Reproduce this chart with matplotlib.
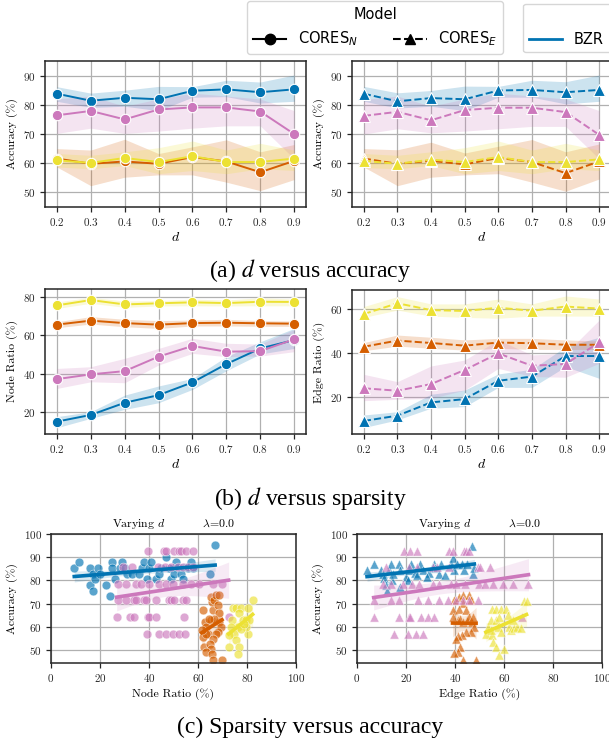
import numpy as np
import matplotlib
matplotlib.use("Agg")
import matplotlib.pyplot as plt
from matplotlib.font_manager import FontProperties
from matplotlib.lines import Line2D

plt.rcParams.update({
    'font.family': ['cmr10', 'DejaVu Serif'],
    'mathtext.fontset': 'cm',
    'axes.formatter.use_mathtext': True,
    'axes.unicode_minus': False,
    'xtick.labelsize': 8,
    'ytick.labelsize': 8,
    'axes.labelsize': 8.5,
})

# ---------------- data ----------------
datasets = ["BZR", "COX2", "DHFR", "NCI1"]
colors = ["#0173b2", "#d55e00", "#cc78bc", "#ece133"]
d_values = [0.2, 0.3, 0.4, 0.5, 0.6, 0.7, 0.8, 0.9]

acc_node_mean = [[83.8, 81.4, 82.4, 81.9, 84.8, 85.3, 84.3, 85.3],
                 [61.6, 59.8, 60.6, 59.8, 62.1, 60.6, 56.9, 60.8],
                 [76.4, 77.9, 75.0, 78.4, 79.1, 79.1, 77.7, 70.0],
                 [61.0, 60.1, 61.8, 60.4, 62.4, 60.4, 60.4, 61.6]]
acc_node_lo = [[81.2, 79.1, 79.5, 78.0, 82.6, 82.8, 80.6, 81.2],
               [58.7, 52.3, 55.2, 56.0, 56.0, 53.5, 50.6, 54.4],
               [70.2, 72.0, 70.2, 71.0, 72.0, 72.8, 72.8, 61.5],
               [58.7, 58.1, 59.2, 56.4, 57.5, 56.4, 58.1, 57.5]]
acc_node_hi = [[86.2, 84.0, 85.0, 86.3, 86.2, 88.4, 87.8, 90.2],
               [65.0, 64.5, 68.2, 63.3, 65.6, 68.0, 63.9, 66.4],
               [82.0, 83.0, 79.5, 82.0, 84.0, 83.0, 82.0, 78.0],
               [63.3, 62.7, 63.9, 65.3, 67.6, 64.5, 66.8, 64.5]]

acc_edge_mean = [[83.8, 81.2, 82.3, 81.9, 84.9, 85.1, 84.3, 85.1],
                 [61.6, 59.8, 60.8, 59.6, 61.8, 60.4, 56.6, 60.6],
                 [76.2, 77.6, 74.7, 78.2, 79.0, 79.0, 77.5, 69.7],
                 [60.8, 59.8, 61.2, 60.4, 62.1, 60.4, 60.4, 61.3]]
acc_edge_lo = [[81.2, 78.9, 79.5, 78.0, 82.6, 82.6, 80.3, 81.2],
               [58.7, 52.3, 55.2, 56.0, 56.4, 53.5, 50.4, 54.6],
               [70.0, 71.8, 70.4, 71.0, 71.8, 72.6, 72.6, 61.5],
               [58.5, 58.1, 59.2, 56.4, 57.5, 56.4, 58.1, 57.5]]
acc_edge_hi = [[86.3, 84.1, 84.9, 86.4, 86.3, 88.4, 87.9, 90.2],
               [65.0, 64.6, 67.2, 63.5, 65.8, 68.1, 63.9, 66.6],
               [81.8, 83.0, 79.5, 82.0, 84.0, 83.0, 82.0, 78.0],
               [63.3, 62.7, 63.9, 65.3, 67.6, 64.5, 66.8, 64.5]]

node_ratio_mean = [[14.8, 18.3, 24.7, 28.7, 35.4, 45.0, 53.2, 57.6],
                   [65.7, 67.8, 66.5, 65.7, 66.5, 66.7, 66.4, 66.2],
                   [37.1, 39.6, 41.3, 48.9, 54.5, 51.5, 51.8, 58.0],
                   [75.8, 78.6, 76.3, 76.9, 77.4, 77.0, 77.7, 77.6]]
node_ratio_lo = [[11.6, 16.5, 21.2, 24.7, 31.7, 41.5, 50.3, 53.2],
                 [64.1, 66.0, 64.6, 63.7, 65.0, 65.0, 64.8, 64.8],
                 [32.2, 35.7, 35.2, 44.5, 50.6, 48.9, 49.2, 51.5],
                 [74.2, 76.9, 74.8, 75.5, 75.6, 75.5, 75.6, 75.6]]
node_ratio_hi = [[17.4, 20.0, 28.7, 33.5, 37.5, 48.9, 56.7, 63.7],
                 [67.2, 69.9, 68.5, 67.8, 68.1, 68.5, 67.8, 67.6],
                 [42.7, 43.6, 48.0, 53.2, 58.5, 55.9, 55.5, 63.2],
                 [77.6, 80.0, 78.1, 78.3, 79.1, 78.6, 79.8, 79.1]]

edge_ratio_mean = [[9.3, 11.7, 17.7, 19.2, 27.5, 29.4, 38.7, 38.7],
                   [42.9, 45.7, 44.6, 43.4, 44.8, 44.5, 43.8, 43.8],
                   [24.1, 23.0, 26.0, 32.4, 39.9, 34.3, 35.1, 44.9],
                   [57.7, 62.6, 59.5, 59.1, 60.6, 59.2, 61.1, 60.2]]
edge_ratio_lo = [[6.3, 9.8, 15.1, 15.8, 24.5, 24.5, 33.9, 28.6],
                 [41.1, 43.2, 42.2, 41.4, 42.2, 41.7, 41.7, 41.7],
                 [18.5, 19.1, 19.5, 23.3, 33.1, 29.4, 29.1, 35.4],
                 [56.2, 59.5, 56.8, 56.2, 55.8, 56.8, 56.8, 56.8]]
edge_ratio_hi = [[12.0, 13.5, 21.4, 23.3, 30.6, 32.7, 42.9, 47.2],
                 [44.8, 48.2, 47.2, 46.0, 46.7, 46.7, 46.0, 45.5],
                 [30.4, 27.1, 34.2, 36.9, 46.0, 39.2, 39.9, 55.0],
                 [61.1, 65.6, 62.3, 62.3, 64.5, 62.3, 65.9, 64.5]]

# scatter: node ratio vs accuracy (circles)
node_x_bzr = [9.5, 11.5, 16, 16, 17, 17, 18, 19, 20, 22.5, 24, 25, 25, 26, 28, 29, 30, 31, 33, 36,
              37, 38, 39, 40, 41, 43, 44, 45, 47, 48, 49, 50, 51, 53, 54, 56, 57, 58, 65, 67]
node_y_bzr = [85.4, 87.8, 85.4, 78.0, 75.6, 82.9, 80.5, 85.4, 82.9, 78.0, 73.2, 87.8, 85.4, 80.5, 85.4, 87.8, 85.4, 82.9, 82.9, 82.9,
              85.4, 87.8, 80.5, 85.4, 87.8, 80.5, 82.9, 85.4, 90.2, 85.4, 80.5, 82.9, 87.8, 82.9, 80.5, 85.4, 87.8, 85.4, 82.9, 95.1]
node_x_cox = [62.2, 62.9, 63.3, 63.9, 61.9, 62.6, 65.3, 66.0, 65.7, 65.3, 66.7, 67.3, 68.7, 68.0, 68.7, 68.7, 69.4, 68.0,
              67.3, 66.0, 64.9, 65.3, 63.3, 65.7, 66.0, 69.8, 63.3, 61.5, 66.7, 64.6]
node_y_cox = [67.2, 62.2, 60.0, 57.1, 55.7, 51.4, 62.9, 67.2, 70.8, 72.9, 71.5, 73.7, 73.7, 69.4, 65.8, 62.2, 60.0, 57.8,
              57.1, 55.0, 52.8, 50.6, 49.2, 48.5, 45.8, 45.8, 57.1, 58.6, 63.6, 63.6]
node_x_dhfr = [39.5, 46.3, 46.9, 50.3, 52.1, 53.1, 55.1, 57.8,
               29.5, 33.0, 43.5, 46.5, 49.0, 52.0, 54.0, 56.0, 58.0,
               27.2, 30.6, 34.7, 36.7, 40.1, 44.2, 46.9, 49.7, 53.7, 57.1, 60.5, 66.0, 69.8,
               27.2, 30.6, 34.0, 34.7, 38.1, 38.8, 42.9, 48.3, 49.0, 50.3, 53.7, 55.1,
               26.8, 32.2, 34.0, 39.5, 40.1, 42.9, 54.4, 72.5,
               39.0, 44.2, 46.9, 49.7, 52.1, 54.8]
node_y_dhfr = [92.9, 92.9, 92.9, 92.9, 92.9, 92.9, 92.9, 92.9,
               85.7, 85.7, 85.7, 85.7, 85.7, 85.7, 85.7, 85.7, 85.7,
               78.6, 78.6, 78.6, 78.6, 78.6, 78.6, 78.6, 78.6, 78.6, 78.6, 78.6, 78.6, 78.6,
               71.4, 71.4, 71.4, 71.4, 71.4, 71.4, 71.4, 71.4, 71.4, 71.4, 71.4, 71.4,
               64.3, 64.3, 64.3, 64.3, 64.3, 64.3, 64.3, 64.3,
               57.1, 57.1, 57.1, 57.1, 57.1, 57.1]
node_x_nci = [73.9, 74.1, 75.5, 77.6, 80.3, 82.3, 76.9, 78.2, 79.6, 81.0, 76.2, 74.8, 75.5, 76.9, 72.5, 76.2,
              80.3, 79.6, 73.5, 77.6, 78.9, 72.8]
node_y_nci = [62.9, 68.3, 68.3, 68.3, 68.3, 71.5, 65.8, 62.9, 62.9, 62.9, 60.0, 57.1, 54.2, 51.4, 51.4, 48.5,
              57.1, 60.0, 60.0, 59.3, 61.4, 56.4]

# scatter: edge ratio vs accuracy (triangles)
edge_x_bzr = [4.1, 6.8, 9.8, 10.5, 11.2, 11.9, 12.1, 13.2, 13.9, 14.3, 17.0, 17.6, 17.6, 20.0, 20.7, 21.4, 22.1, 23.8, 24.4, 25.9,
              26.8, 29.3, 31.3, 32.0, 33.6, 34.3, 38.4, 39.3, 39.7, 40.7, 42.8, 43.8, 45.1, 46.9, 47.5, 47.9, 36.0, 28.4, 14.6]
edge_y_bzr = [84.7, 87.3, 84.7, 83.0, 80.9, 78.0, 75.6, 84.7, 87.3, 80.1, 87.3, 84.7, 77.3, 81.6, 80.4, 84.7, 87.3, 83.3, 82.3, 87.3,
              84.7, 83.3, 87.3, 85.2, 82.7, 87.3, 87.3, 89.5, 84.7, 87.3, 87.3, 84.7, 87.3, 94.8, 83.0, 85.2, 82.3, 81.6, 83.0]
edge_x_cox = [39.0, 39.3, 39.7, 41.5, 43.1, 43.4, 41.8, 44.5, 45.8, 46.5, 41.1, 42.0, 43.4, 45.1, 46.9, 47.9, 46.5, 44.5,
              42.8, 41.1, 40.4, 42.0, 41.1, 39.7, 43.1, 48.6, 45.6, 47.5]
edge_y_cox = [67.2, 64.3, 71.5, 72.9, 73.7, 70.1, 67.9, 67.2, 73.7, 71.5, 62.9, 63.6, 62.2, 62.9, 62.2, 60.0, 57.8, 57.8,
              56.4, 56.0, 55.0, 51.4, 49.2, 48.8, 45.6, 45.6, 64.3, 64.3]
edge_x_dhfr = [19.0, 21.6, 24.4, 37.7, 39.0, 43.8, 44.5, 45.8,
               11.9, 21.4, 24.4, 30.9, 32.5, 37.4, 49.3, 50.3, 54.3,
               10.5, 13.9, 18.7, 22.5, 25.4, 31.2, 33.6, 38.4, 40.4, 44.2, 49.6, 52.4, 55.4, 59.4, 63.5, 70.0,
               6.8, 13.9, 17.0, 24.8, 28.8, 33.6, 37.0, 40.4, 43.4, 45.8, 49.2,
               7.1, 17.3, 21.4, 21.6, 26.1, 28.8, 31.6, 67.3,
               15.3, 20.7, 24.1, 27.1]
edge_y_dhfr = [92.9, 92.9, 92.9, 92.9, 92.9, 92.9, 92.9, 92.9,
               85.7, 85.7, 85.7, 85.7, 85.7, 85.7, 85.7, 85.7, 85.7,
               78.6, 78.6, 78.6, 78.6, 78.6, 78.6, 78.6, 78.6, 78.6, 78.6, 78.6, 78.6, 78.6, 78.6, 78.6, 78.6,
               71.4, 71.4, 71.4, 71.4, 71.4, 71.4, 71.4, 71.4, 71.4, 71.4, 71.4,
               64.3, 64.3, 64.3, 64.3, 64.3, 64.3, 64.3, 64.3,
               57.1, 57.1, 57.1, 57.1]
edge_x_nci = [52.6, 53.3, 54.7, 55.3, 56.7, 58.7, 60.8, 61.5, 56.7, 57.4, 58.7, 55.3, 55.6, 56.7, 57.8, 60.1,
              62.1, 62.8, 64.2, 65.5, 66.9, 68.2, 69.2, 63.5, 58.1, 54.7]
edge_y_nci = [57.1, 60.0, 62.9, 67.9, 67.9, 67.9, 67.9, 65.0, 62.9, 60.0, 57.8, 56.4, 53.5, 51.4, 47.8, 50.6,
              60.0, 58.6, 59.7, 60.0, 59.7, 71.2, 71.2, 62.9, 64.3, 58.6]

# ---------------- figure ----------------
W, H = 609, 740
fig = plt.figure(figsize=(W / 100, H / 100), dpi=100)


def px_axes(x0, y0, x1, y1):
    return fig.add_axes([x0 / W, 1 - y1 / H, (x1 - x0) / W, (y1 - y0) / H])


def style(ax):
    ax.grid(True, color='#b0b0b0', lw=0.9)
    ax.set_axisbelow(True)
    for s in ax.spines.values():
        s.set_color('#262626')
        s.set_linewidth(1.1)
    ax.tick_params(direction='out', length=3.5, width=0.9, color='#262626', labelcolor='#262626', pad=3)


def line_panel(ax, means, los, his, marker, ls, ylim, ylabel, yticks):
    for m, lo, hi, c in zip(means, los, his, colors):
        ax.fill_between(d_values, lo, hi, color=c, alpha=0.2, lw=0)
        ax.plot(d_values, m, color=c, ls=ls, lw=1.4, marker=marker, ms=7.5 if marker == 'o' else 8,
                mec='white', mew=0.8)
    ax.set_xlim(0.165, 0.935)
    ax.set_xticks(d_values)
    ax.set_ylim(*ylim)
    ax.set_yticks(yticks)
    ax.set_xlabel('$d$', fontsize=10, labelpad=2)
    ax.set_ylabel(ylabel)
    style(ax)


def reg_panel(ax, xs, ys, marker, xlabel):
    for x, y, c in zip(xs, ys, colors):
        ax.scatter(x, y, s=40 if marker == 'o' else 44, marker=marker, color=c, alpha=0.65,
                   edgecolors='white', linewidths=0.5, zorder=2)
    for x, y, c in zip(xs, ys, colors):
        x = np.asarray(x, float)
        y = np.asarray(y, float)
        b, a = np.polyfit(x, y, 1)
        g = np.linspace(x.min(), x.max(), 100)
        yh = a + b * g
        n = len(x)
        s = np.sqrt(np.sum((y - (a + b * x)) ** 2) / (n - 2))
        se = s * np.sqrt(1 / n + (g - x.mean()) ** 2 / np.sum((x - x.mean()) ** 2))
        ax.fill_between(g, yh - 1.96 * se, yh + 1.96 * se, color=c, alpha=0.15, lw=0, zorder=3)
        ax.plot(g, yh, color=c, lw=2.6, zorder=4)
    ax.set_xlim(0, 100)
    ax.set_ylim(44.5, 100)
    ax.set_xticks([0, 20, 40, 60, 80, 100])
    ax.set_yticks([50, 60, 70, 80, 90, 100])
    ax.set_xlabel(xlabel, labelpad=3)
    ax.set_ylabel('Accuracy (%)')
    ax.set_title('Varying $d$          $\\lambda$=0.0', fontsize=8.5, pad=5)
    style(ax)


ax1 = px_axes(45, 61, 306, 207)
line_panel(ax1, acc_node_mean, acc_node_lo, acc_node_hi, 'o', '-', (45, 95), 'Accuracy (%)', [50, 60, 70, 80, 90])
ax2 = px_axes(352, 61, 611, 207)
line_panel(ax2, acc_edge_mean, acc_edge_lo, acc_edge_hi, '^', '--', (45, 95), 'Accuracy (%)', [50, 60, 70, 80, 90])
ax3 = px_axes(45, 289, 306, 434)
line_panel(ax3, node_ratio_mean, node_ratio_lo, node_ratio_hi, 'o', '-', (8.3, 84.4), 'Node Ratio (%)', [20, 40, 60, 80])
ax4 = px_axes(352, 290, 611, 434)
line_panel(ax4, edge_ratio_mean, edge_ratio_lo, edge_ratio_hi, '^', '--', (3.4, 68.6), 'Edge Ratio (%)', [20, 40, 60])

ax5 = px_axes(51, 534, 296, 663)
reg_panel(ax5, [node_x_bzr, node_x_cox, node_x_dhfr, node_x_nci],
          [node_y_bzr, node_y_cox, node_y_dhfr, node_y_nci], 'o', 'Node Ratio (%)')
ax6 = px_axes(357, 534, 602, 663)
reg_panel(ax6, [edge_x_bzr, edge_x_cox, edge_x_dhfr, edge_x_nci],
          [edge_y_bzr, edge_y_cox, edge_y_dhfr, edge_y_nci], '^', 'Edge Ratio (%)')

# legends
legprop = FontProperties(family='DejaVu Sans', size=10.5, math_fontfamily='dejavusans')
model_handles = [Line2D([], [], color='black', marker='o', ls='-', lw=1.5, ms=7.5),
                 Line2D([], [], color='black', marker='^', ls='--', lw=1.5, ms=7.5)]
leg1 = fig.legend(model_handles, ['CORES$_N$', 'CORES$_E$'], title='Model', ncol=2,
                  loc='upper left', bbox_to_anchor=(247 / W, 1 - 1.5 / H), borderaxespad=0,
                  prop=legprop, title_fontproperties=legprop, frameon=True,
                  columnspacing=2.4, handlelength=2.3)
data_handles = [Line2D([], [], color=c, lw=2) for c in colors]
leg2 = fig.legend(data_handles, datasets, title=' ', ncol=4,
                  loc='upper left', bbox_to_anchor=(523 / W, 1 - 3.5 / H), borderaxespad=0,
                  prop=legprop, title_fontproperties=legprop, frameon=True,
                  columnspacing=2.0, handlelength=2.3)

# captions
cap = dict(ha='center', va='center', fontfamily='Liberation Serif', fontsize=17, math_fontfamily='stix')
fig.text(310 / W, 1 - 271 / H, '(a) $d$ versus accuracy', **cap)
fig.text(310 / W, 1 - 498 / H, '(b) $d$ versus sparsity', **cap)
fig.text(310 / W, 1 - 727 / H, '(c) Sparsity versus accuracy', **cap)

fig.savefig('out.png', dpi=100)
